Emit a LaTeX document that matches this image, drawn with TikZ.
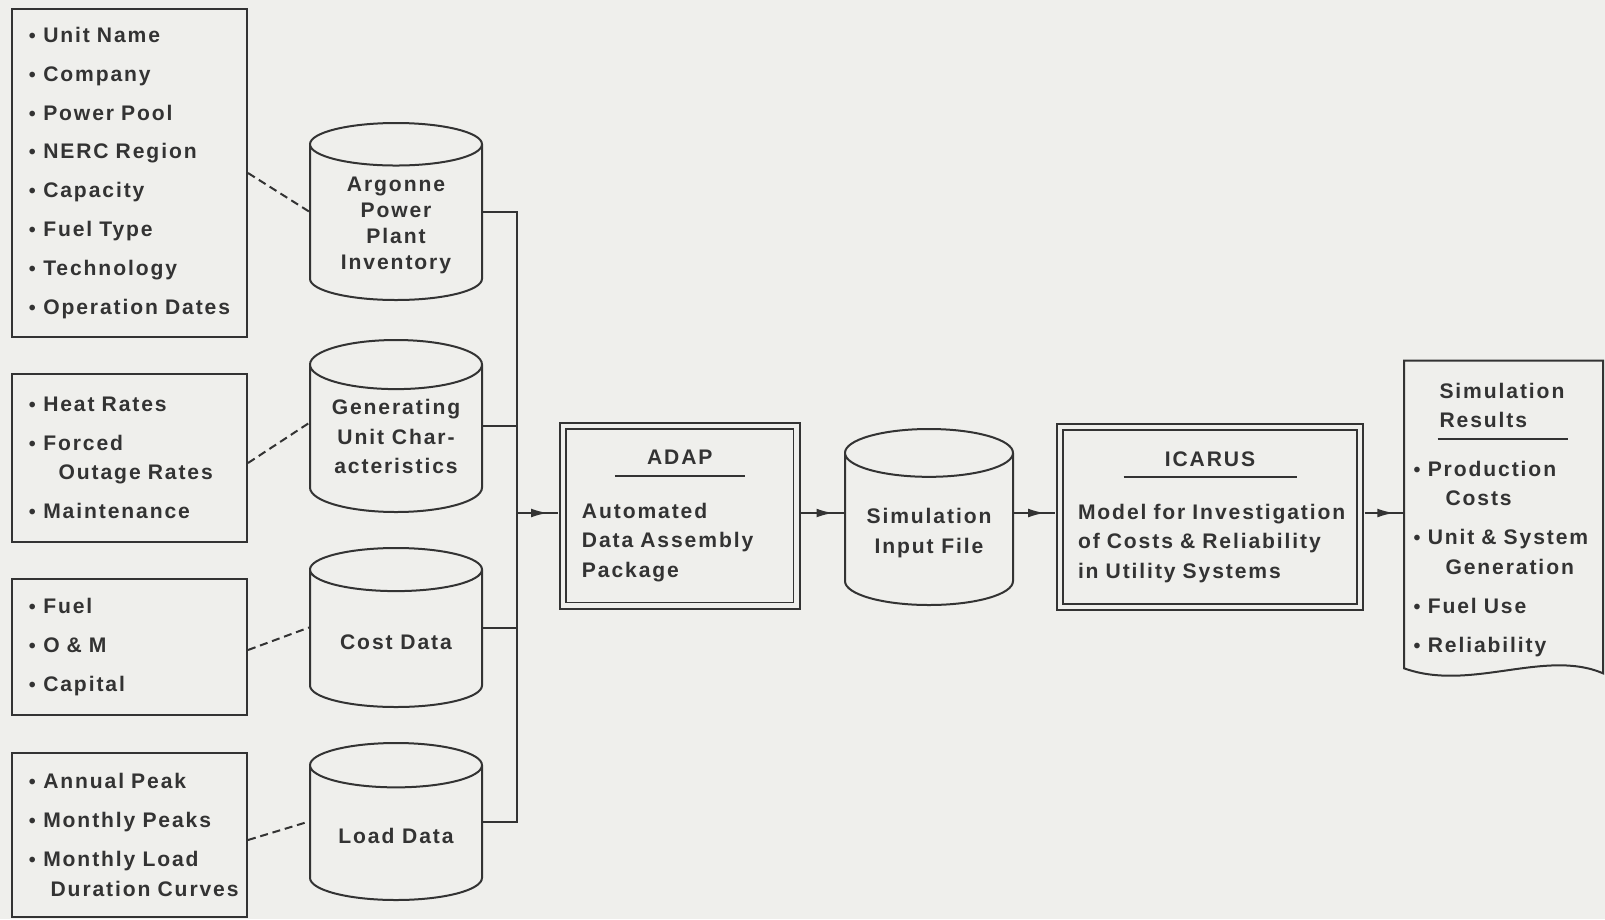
\documentclass[tikz,border=0pt]{standalone}
\usepackage{fontspec}
\setmainfont{Liberation Sans}[LetterSpace=9]
\usetikzlibrary{arrows.meta,calc,decorations.markings,shapes.geometric}
\definecolor{ink}{HTML}{333333}
\definecolor{paper}{HTML}{EFEFEC}
\newcommand{\itm}[1]{\mbox{{\fontsize{14}{14}\selectfont\textbullet}\hspace{.35em}#1}}
\tikzset{
  every node/.style={text=ink},
  attr/.style={draw=ink, line width=.5mm, align=left, text width=50.25mm,
    inner xsep=4.1mm, minimum width=58.75mm,
    font=\fontsize{15}{21}\selectfont\bfseries},
  store/.style={draw=ink, line width=.5mm, shape=cylinder,
    shape border rotate=90, aspect=.36, minimum width=43mm, inner sep=1mm,
    align=center, font=\fontsize{15}{21}\selectfont\bfseries},
  prog/.style={draw=ink, double=paper, double distance=1.1mm,
    line width=.45mm, align=left,
    font=\fontsize{15}{21}\selectfont\bfseries},
  report/.style={align=left, inner xsep=2.3mm, text width=45mm,
    minimum height=76.75mm, font=\fontsize{15}{21}\selectfont\bfseries},
  wire/.style={draw=ink, line width=.5mm},
  link/.style={draw=ink, line width=.5mm, dash pattern=on 2mm off 1.2mm},
  flow/.style={wire, postaction={decorate}, decoration={markings,
    mark=at position .75 with {\arrow{Latex[length=4.2mm,width=2.2mm]}}}}
}
\begin{document}
\begin{tikzpicture}[x=.25mm,y=-.25mm]
\fill[paper] (0,0) rectangle (1605,919);
\useasboundingbox (0,0) rectangle (1605,919);

% attribute lists
\node[attr, minimum height=82mm] (units) at (129.5,173)
  {\itm{Unit Name}\\[6.7pt]
   \itm{Company}\\[6.7pt]
   \itm{Power Pool}\\[6.7pt]
   \itm{NERC Region}\\[6.7pt]
   \itm{Capacity}\\[6.7pt]
   \itm{Fuel Type}\\[6.7pt]
   \itm{Technology}\\[6.7pt]
   \itm{Operation Dates}};
\node[attr, minimum height=42mm] (perform) at (129.5,458)
  {\itm{Heat Rates}\\[6.7pt]
   \itm{Forced}\\
   \hspace*{7.4mm}\mbox{Outage Rates}\\[6.7pt]
   \itm{Maintenance}};
\node[attr, minimum height=34mm] (costs) at (129.5,647)
  {\itm{Fuel}\\[6.7pt]
   \itm{O \& M}\\[6.7pt]
   \itm{Capital}};
\node[attr, minimum height=41mm] (loads) at (129.5,835)
  {\itm{Annual Peak}\\[6.7pt]
   \itm{Monthly Peaks}\\[6.7pt]
   \itm{Monthly Load}\\
   \hspace*{5.4mm}\mbox{Duration Curves}};

% data files
\node[store, minimum height=44.25mm, anchor=shape center,
  font=\fontsize{15}{18.5}\selectfont\bfseries] (inventory) at (396,211.5)
  {Argonne\\Power\\Plant\\Inventory};
\node[store, minimum height=43mm, anchor=shape center] (unitchar) at (396,426)
  {Generating\\Unit Char-\\acteristics\rule[-3mm]{0pt}{3mm}};
\node[store, minimum height=39.75mm, anchor=shape center] (costdata) at (396,627.5)
  {Cost Data};
\node[store, minimum height=39.25mm, anchor=shape center] (loaddata) at (396,821.5)
  {Load Data};
\node[store, minimum width=42mm, minimum height=44mm, anchor=shape center]
  (siminput) at (929,517) {Simulation\\Input File};

% programs
\node[prog, minimum width=58.4mm, minimum height=44.9mm, text width=48.9mm,
  inner xsep=4.75mm] (adap) at (679.75,515.75)
  {\makebox[48.9mm]{ADAP}\\[-12.1pt]
   \makebox[48.9mm]{\rule{32.5mm}{.5mm}}\\[8.2pt]
   Automated\\
   \mbox{Data Assembly}\\
   Package};
\node[prog, minimum width=75mm, minimum height=45mm, text width=66mm,
  inner xsep=4.5mm] (icarus) at (1210,517)
  {\makebox[66mm]{ICARUS}\\[-12.8pt]
   \makebox[66mm]{\rule{43.25mm}{.5mm}}\\[8.5pt]
   \mbox{Model for Investigation}\\
   \mbox{of Costs \& Reliability}\\
   \mbox{in Utility Systems}};

% output document
\node[report] (results) at (1503.5,514.5)
  {\rule{0pt}{6.5mm}\hspace*{6.5mm}Simulation\\
   \hspace*{6.5mm}Results\\[-12.1pt]
   \hspace*{6mm}\rule{32.5mm}{.5mm}\\[4.5pt]
   \itm{Production}\\
   \hspace*{8mm}Costs\\[6.7pt]
   \itm{Unit \& System}\\
   \hspace*{8mm}Generation\\[6.7pt]
   \itm{Fuel Use}\\[6.7pt]
   \itm{Reliability}};
\draw[wire] (results.north west) -- (results.north east)
  -- ([yshift=-1.25mm]results.south east)
  .. controls ($(results.south east)+(-58,-20)$)
  and ($(results.south west)+(66,24)$) .. (results.south west) -- cycle;

% attribute lists to files
\draw[link] (units.east) -- (inventory.west |- inventory.shape center);
\draw[link] ([yshift=-1.25mm]perform.east)
  -- ([yshift=.75mm]unitchar.west |- unitchar.shape center);
\draw[link] ([yshift=-.75mm]costs.east)
  -- (costdata.west |- costdata.shape center);
\draw[link] ([yshift=-1.25mm]loads.east)
  -- (loaddata.west |- loaddata.shape center);

% collecting bus and main flow
\coordinate (bus) at (517,513);
\draw[wire] (inventory.east |- inventory.shape center)
  -| (bus |- loaddata.shape center)
  -- (loaddata.east |- loaddata.shape center);
\draw[wire] (unitchar.east |- unitchar.shape center)
  -- (bus |- unitchar.shape center);
\draw[wire] (costdata.east |- costdata.shape center)
  -- (bus |- costdata.shape center);
\draw[flow] (bus) -- ([xshift=-.95mm]bus -| adap.west);
\draw[flow] ([xshift=.95mm]adap.east |- bus) -- (siminput.west |- bus);
\draw[flow] (siminput.east |- bus) -- ([xshift=-.95mm]icarus.west |- bus);
\draw[flow] ([xshift=.95mm]icarus.east |- bus) -- (results.west |- bus);

\end{tikzpicture}
\end{document}
